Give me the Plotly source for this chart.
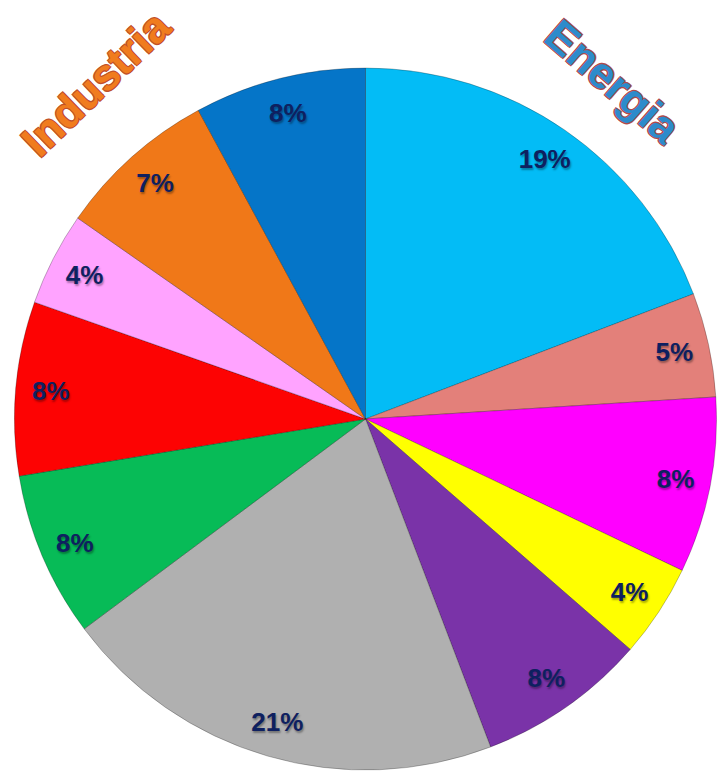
import plotly.graph_objects as go

# Data (clockwise from 12 o'clock)
categories = ["A", "B", "C", "D", "E", "F", "G", "H", "I", "J", "K"]
values = [19.2, 4.8, 8.1, 4.3, 7.8, 20.6, 7.6, 8.0, 4.3, 7.4, 7.9]
colors = ["#03BCF6", "#E3807A", "#FF00FF", "#FFFF00", "#7A33A8", "#B0B0B0",
          "#07BB57", "#FD0303", "#FFA3FF", "#F07818", "#0575C8"]
group_labels = ["Energia", "Industria"]

dom = dict(x=[12 / 719, 719 / 719], y=[7 / 777, 709 / 777])

fig = go.Figure()
fig.add_trace(go.Pie(
    labels=categories, values=values, sort=False, direction="clockwise",
    marker=dict(colors=colors, line=dict(color="rgba(0,0,0,0.25)", width=1)),
    textinfo="none", hoverinfo="skip", domain=dom, showlegend=False,
))
# transparent ring carrying labels near the outer edge
fig.add_trace(go.Pie(
    labels=categories, values=values, sort=False, direction="clockwise",
    hole=0.8,
    marker=dict(colors=["rgba(0,0,0,0)"] * len(values), line=dict(width=0)),
    texttemplate="%{percent:.0%}", textposition="inside",
    insidetextorientation="horizontal",
    textfont=dict(family="Liberation Sans, Arial", size=26, color="#0E2060",
                  weight="bold", shadow="1px 2px 2px rgba(0,0,0,0.35)"),
    hoverinfo="skip", domain=dom, showlegend=False,
))

fig.add_annotation(
    text=group_labels[0], xref="paper", yref="paper", x=0.853, y=0.895,
    xanchor="center", yanchor="middle",
    showarrow=False, textangle=41,
    font=dict(family="Liberation Sans, Arial", size=44, color="#2D8BCB",
              weight="bold",
              shadow="1px 1px 0 #B04A4A, -1px -1px 0 #B04A4A, 1px -1px 0 #B04A4A, -1px 1px 0 #B04A4A"),
)
fig.add_annotation(
    text=group_labels[1], xref="paper", yref="paper", x=0.133, y=0.892,
    xanchor="center", yanchor="middle",
    showarrow=False, textangle=-44,
    font=dict(family="Liberation Sans, Arial", size=44, color="#F07C1E",
              weight="bold",
              shadow="1px 1px 0 #C0502A, -1px -1px 0 #C0502A, 1px -1px 0 #C0502A, -1px 1px 0 #C0502A"),
)

fig.update_layout(
    width=719, height=777, margin=dict(l=0, r=0, t=0, b=0),
    paper_bgcolor="white", plot_bgcolor="white", showlegend=False,
)
fig.write_html("out.html", config={"displayModeBar": False},
               post_script="document.body.style.margin='0';document.body.style.overflow='hidden';")
